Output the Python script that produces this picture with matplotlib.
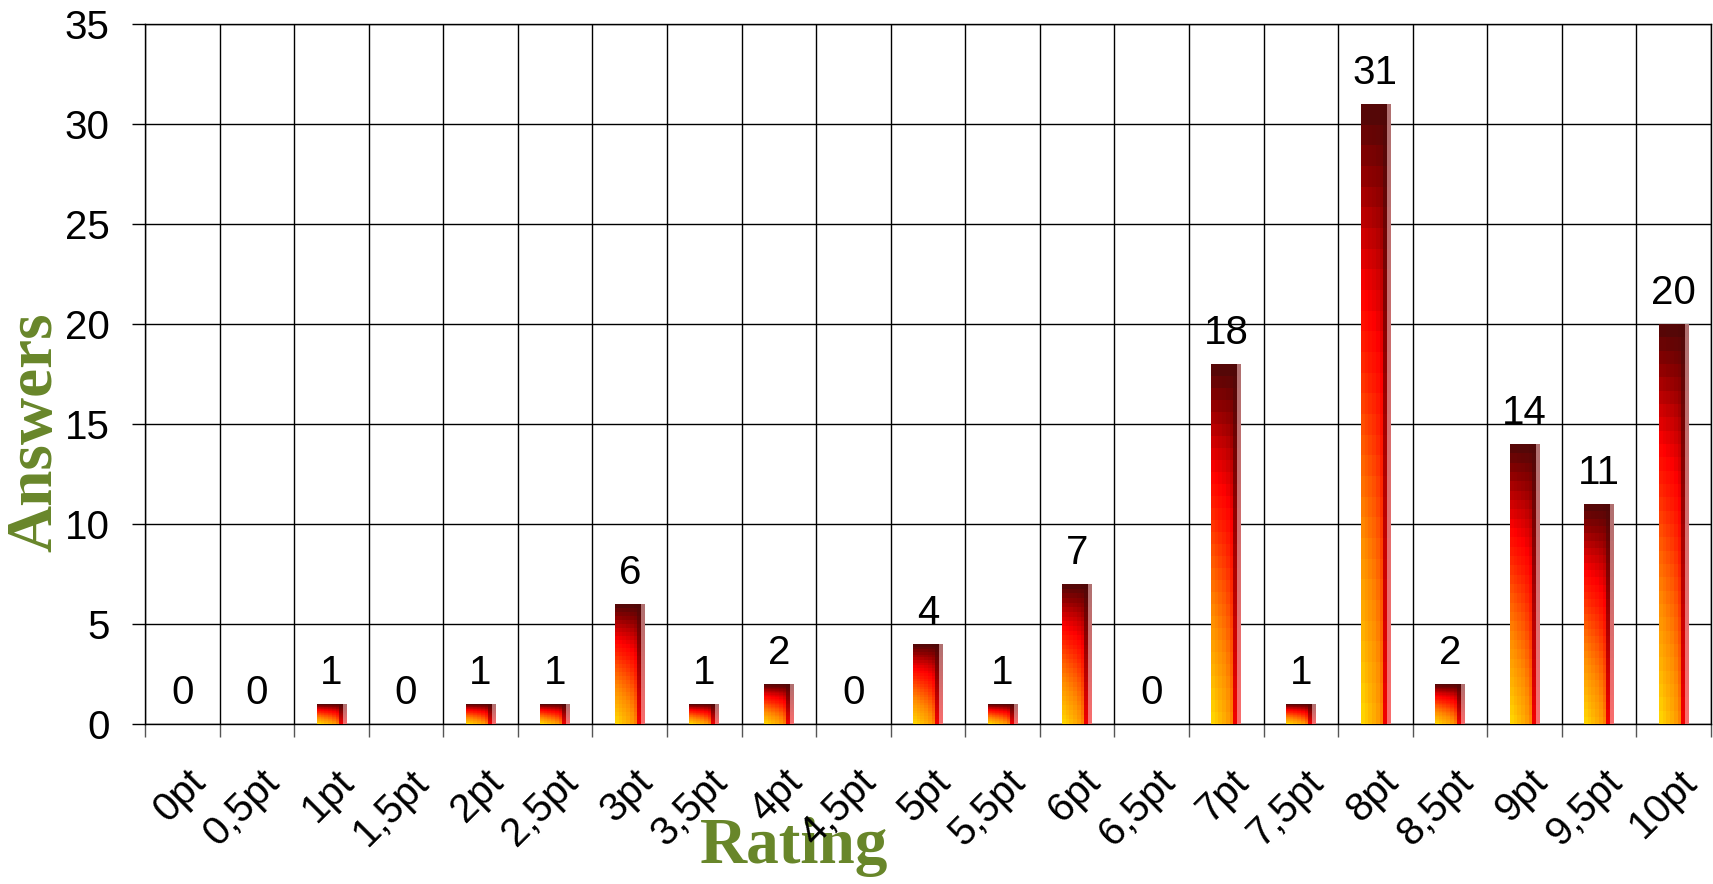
import numpy as np
import matplotlib
matplotlib.use("Agg")
import matplotlib.pyplot as plt
from matplotlib.colors import LinearSegmentedColormap
from matplotlib.transforms import blended_transform_factory, ScaledTranslation

# data
ratings = ["0pt", "0,5pt", "1pt", "1,5pt", "2pt", "2,5pt", "3pt", "3,5pt", "4pt", "4,5pt",
           "5pt", "5,5pt", "6pt", "6,5pt", "7pt", "7,5pt", "8pt", "8,5pt", "9pt", "9,5pt", "10pt"]
answers = [0, 0, 1, 0, 1, 1, 6, 1, 2, 0, 4, 1, 7, 0, 18, 1, 31, 2, 14, 11, 20]

plt.rcParams['font.family'] = ['Liberation Sans', 'DejaVu Sans']

fire = LinearSegmentedColormap.from_list('fire', [
    (0.0, '#FFD800'), (0.15, '#FFB000'), (0.3, '#FF8C00'), (0.45, '#FF5A00'),
    (0.6, '#FF2000'), (0.7, '#FF0000'), (0.8, '#C80000'), (0.9, '#8A0000'), (1.0, '#4E0808')])

# banded gradient: mostly vertical, darker towards the right edge, pale strip at the far right
nrows = 30
col_shift = np.array([0.0, 0.05, 0.1, 0.15, 0.22, 0.32, 0.72])
t = (np.arange(nrows) + 0.5) / nrows
cval = np.clip(t[:, None] + col_shift[None, :] * (1 - t[:, None]), 0, 1)
body = fire(cval)[..., :3]
strip = body[:, -1:] * 0.45 + np.array([1.0, 0.78, 0.78]) * 0.55
grad = np.concatenate([body, strip], axis=1)

fig = plt.figure(figsize=(17.13, 8.84), dpi=100)
ax = fig.add_axes([145 / 1713, 1 - 724 / 884, (1711 - 145) / 1713, (724 - 24) / 884])

x = np.arange(len(ratings))
bars = ax.bar(x, answers, width=0.4, color='none', edgecolor='none', zorder=3)
for b, v in zip(bars, answers):
    if v > 0:
        im = ax.imshow(grad, extent=[b.get_x(), b.get_x() + b.get_width(), 0, b.get_height()],
                       origin='lower', aspect='auto', interpolation='nearest', zorder=3)
        im.set_clip_path(b)
    ax.annotate(str(v), (b.get_x() + b.get_width() / 2, v), xytext=(0, 22),
                textcoords='offset points', ha='center', va='center', fontsize=29, zorder=4)

ax.set_xlim(-0.5, len(ratings) - 0.5)
ax.set_ylim(0, 35)
ax.set_xticks(np.arange(len(ratings) + 1) - 0.5)
ax.set_yticks(range(0, 36, 5))
ax.tick_params(axis='x', length=9, width=1, labelbottom=False, color='#555555')
ax.tick_params(axis='y', length=9.4, width=1, pad=16, labelsize=29)
ax.grid(True, color='black', linewidth=1)
ax.set_axisbelow(True)
for sp in ax.spines.values():
    sp.set_color('black')
    sp.set_linewidth(1)

# rotated category labels
tr = blended_transform_factory(ax.transData, ax.transAxes) + ScaledTranslation(0.17, -0.52, fig.dpi_scale_trans)
for i, lab in enumerate(ratings):
    ax.text(i, 0, lab, transform=tr, rotation=45, ha='right', va='center',
            rotation_mode='anchor', fontsize=29, zorder=5, clip_on=False)

green = '#68862A'
ax.text(794 / 1713, 1 - 847 / 884, "Rating", transform=fig.transFigure, ha='center', va='center',
        fontsize=47, fontweight='bold', color=green, family=['Liberation Serif', 'DejaVu Serif'],
        zorder=1, clip_on=False)
ax.text(35 / 1713, 1 - 432 / 884, "Answers", transform=fig.transFigure, ha='center', va='center',
        rotation=90, fontsize=47, fontweight='bold', color=green,
        family=['Liberation Serif', 'DejaVu Serif'], zorder=1, clip_on=False)

fig.savefig("out.png", dpi=100)
